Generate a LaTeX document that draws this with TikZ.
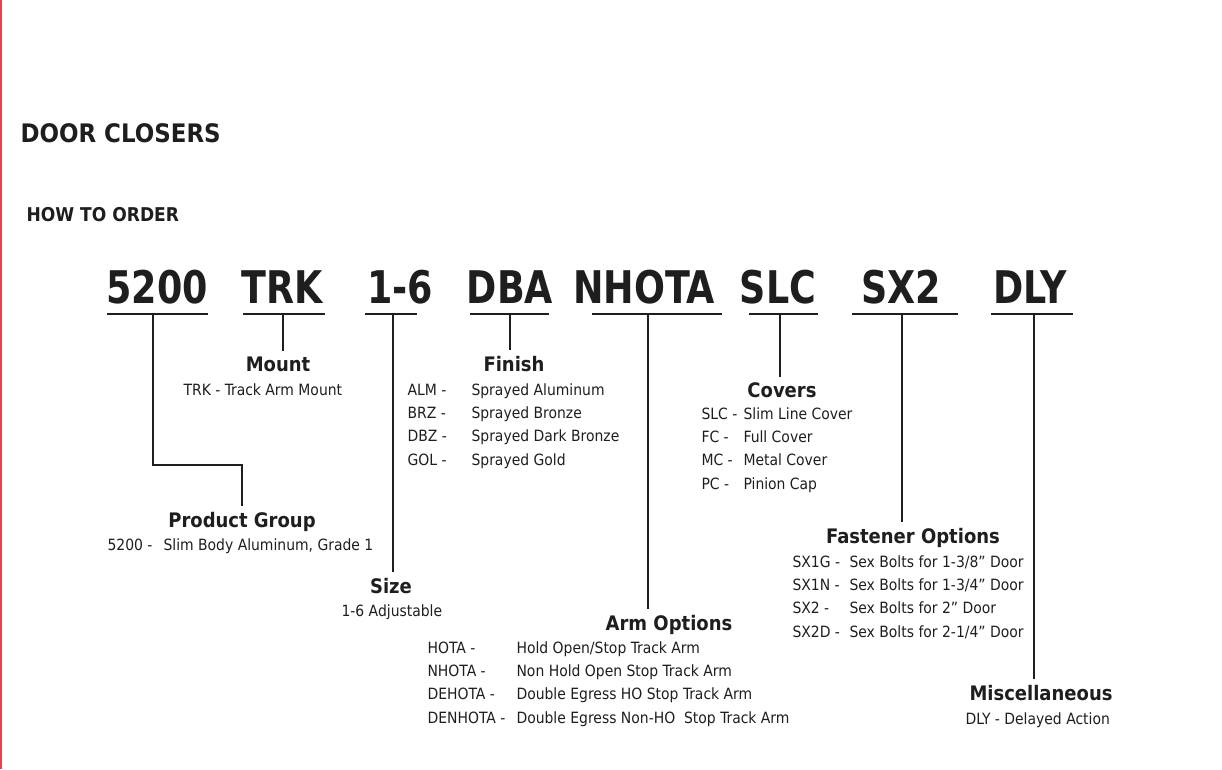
\documentclass[tikz,border=0pt]{standalone}
\usepackage{fontspec}
\setmainfont{DejaVu Sans}
\newfontfamily\condfont{DejaVu Sans Condensed}
\newfontfamily\codefont[FakeStretch=0.9]{DejaVu Sans Condensed}
\usepackage{array}
\definecolor{ink}{HTML}{1E1E1E}
\definecolor{edge}{HTML}{E04848}
\begin{document}
\begin{tikzpicture}[x=1pt, y=-1pt, line width=1.1pt, draw=ink, text=ink,
  code/.style={anchor=base, inner sep=0pt, font=\codefont\bfseries\fontsize{45}{48}\selectfont},
  head/.style={anchor=base, inner sep=5pt, font=\condfont\bfseries\fontsize{20}{24}\selectfont},
  body/.style={anchor=base west, inner sep=0pt, font=\condfont\fontsize{15.5}{23.4}\selectfont}]
  \useasboundingbox (0,0) rectangle (1222,769);
  \fill[edge] (0,0) rectangle (1.5,769);
  \node[anchor=base west, inner sep=0pt, font=\condfont\bfseries\fontsize{25.5}{30}\selectfont] (title) at (20,142) {DOOR CLOSERS};
  \node[anchor=base west, inner sep=0pt, font=\condfont\bfseries\fontsize{19}{22}\selectfont] (order) at (26,221) {HOW TO ORDER};
  \node[code] (c5200) at (157,303) {5200};
  \node[code] (cTRK) at (282,303) {TRK};
  \node[code] (cSize) at (400,303) {1-6};
  \node[code] (cDBA) at (510,303) {DBA};
  \node[code] (cNHOTA) at (644,303) {NHOTA};
  \node[code] (cSLC) at (778,303) {SLC};
  \node[code] (cSX2) at (901,303) {SX2};
  \node[code] (cDLY) at (1030,303) {DLY};
  \draw (107,314) -- (208,314);
  \draw (243,314) -- (325,314);
  \draw (365,314) -- (417,314);
  \draw (470,314) -- (549,314);
  \draw (592,314) -- (722,314);
  \draw (749,314) -- (818,314);
  \draw (852,314) -- (958,314);
  \draw (991,314) -- (1073,314);
  \coordinate (t5200) at (153,314);
  \coordinate (tTRK) at (283,314);
  \coordinate (tSize) at (393,314);
  \coordinate (tDBA) at (510,314);
  \coordinate (tNHOTA) at (648,314);
  \coordinate (tSLC) at (780,314);
  \coordinate (tSX2) at (902,314);
  \coordinate (tDLY) at (1034,314);
  \node[head] (hMount) at (278,371) {Mount};
  \node[body] (lMount) at (183,395) {TRK - Track Arm Mount};
  \node[head] (hFinish) at (514,371) {Finish};
  \node[body] (lFinish) at (407,395) {\begin{tabular}[t]{@{}p{64pt}@{}l@{}}ALM - & Sprayed Aluminum\\ BRZ - & Sprayed Bronze\\ DBZ - & Sprayed Dark Bronze\\ GOL - & Sprayed Gold\end{tabular}};
  \node[head] (hCovers) at (782,397) {Covers};
  \node[body] (lCovers) at (701,419) {\begin{tabular}[t]{@{}p{42pt}@{}l@{}}SLC - & Slim Line Cover\\ FC - & Full Cover\\ MC - & Metal Cover\\ PC - & Pinion Cap\end{tabular}};
  \node[head] (hGroup) at (242,527) {Product Group};
  \node[body] (lGroup) at (107,550) {\begin{tabular}[t]{@{}p{56pt}@{}l@{}}5200 - & Slim Body Aluminum, Grade 1\end{tabular}};
  \node[head] (hFasten) at (913,543) {Fastener Options};
  \node[body] (lFasten) at (792,567) {\begin{tabular}[t]{@{}p{57pt}@{}l@{}}SX1G - & Sex Bolts for 1-3/8” Door\\ SX1N - & Sex Bolts for 1-3/4” Door\\ SX2 - & Sex Bolts for 2” Door\\ SX2D - & Sex Bolts for 2-1/4” Door\end{tabular}};
  \node[head] (hSize) at (391,593) {Size};
  \node[body] (lSize) at (341,616) {1-6 Adjustable};
  \node[head] (hArm) at (669,630) {Arm Options};
  \node[body] (lArm) at (427,653) {\begin{tabular}[t]{@{}p{89pt}@{}l@{}}HOTA - & Hold Open/Stop Track Arm\\ NHOTA - & Non Hold Open Stop Track Arm\\ DEHOTA - & Double Egress HO Stop Track Arm\\ DENHOTA - & Double Egress Non-HO\ \ Stop Track Arm\end{tabular}};
  \node[head] (hMisc) at (1041,700) {Miscellaneous};
  \node[body] (lMisc) at (965,724) {DLY - Delayed Action};
  \draw (t5200) -- ++(0,151) -| (hGroup.north);
  \draw (tTRK) -- (tTRK |- hMount.north);
  \draw (tSize) -- (tSize |- hSize.north);
  \draw (tDBA) -- (tDBA |- hFinish.north);
  \draw (tNHOTA) -- (tNHOTA |- hArm.north);
  \draw (tSLC) -- (tSLC |- hCovers.north);
  \draw (tSX2) -- (tSX2 |- hFasten.north);
  \draw (tDLY) -- (tDLY |- hMisc.north);
\end{tikzpicture}
\end{document}
